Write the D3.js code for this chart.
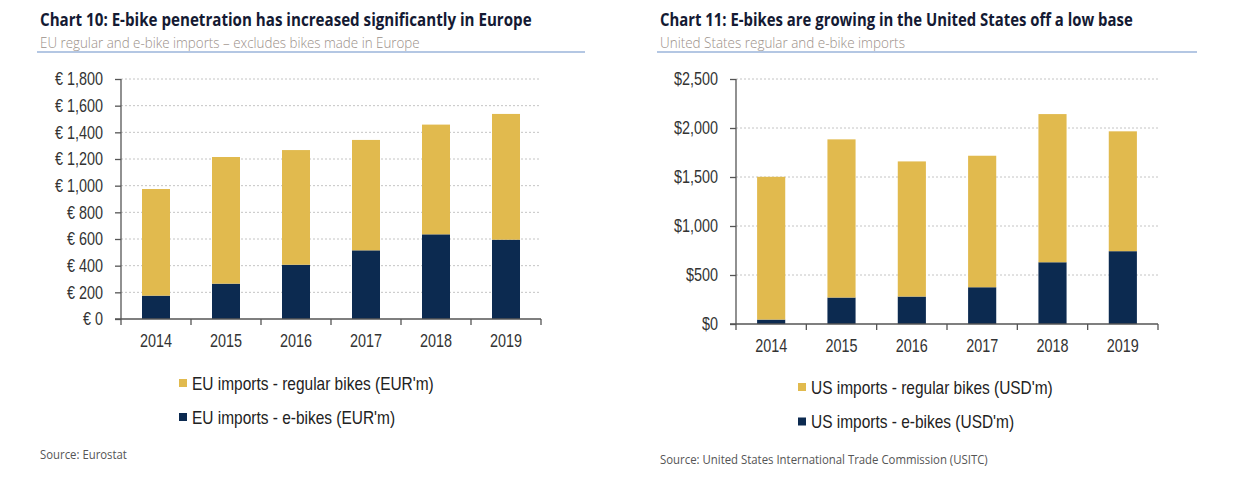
<!DOCTYPE html>
<html>
<head>
<meta charset="utf-8">
<script src="https://cdn.jsdelivr.net/npm/d3@7"></script>
<style>
  html, body { margin: 0; padding: 0; background: #fff; }
  svg { display: block; }
</style>
</head>
<body>
<svg id="chart" width="1233" height="486"></svg>
<script>
// ---------------- DATA ----------------
const years = ["2014", "2015", "2016", "2017", "2018", "2019"];
const euEbikes = [175, 265, 407, 515, 635, 595];
const euRegular = [800, 950, 860, 828, 823, 943];
const usEbikes = [45, 270, 280, 375, 630, 743];
const usRegular = [1457, 1614, 1379, 1342, 1512, 1223];
const euTicks = [0, 200, 400, 600, 800, 1000, 1200, 1400, 1600, 1800];
const usTicks = [0, 500, 1000, 1500, 2000, 2500];
const euLegend = ["EU imports - regular bikes (EUR'm)", "EU imports - e-bikes (EUR'm)"];
const usLegend = ["US imports - regular bikes (USD'm)", "US imports - e-bikes (USD'm)"];

const GOLD = "#E1BA4E";
const NAVY = "#0C2A50";
const svg = d3.select("#chart");

// horizontally scale a text (about its anchor point) by a factor, via a transform
function squeeze(node, s) {
  const el = d3.select(node);
  const x = +el.attr("x") || 0;
  const y = +el.attr("y") || 0;
  el.attr("x", 0).attr("y", 0)
    .attr("transform", `translate(${x},${y}) scale(${s},1)`);
}
function condense(sel, factor) {
  sel.each(function () { squeeze(this, factor); });
}
function fitWidth(sel, width) {
  sel.each(function () {
    const w = this.getComputedTextLength();
    squeeze(this, width / w);
  });
}

function header(cfg) {
  const g = svg.append("g");
  g.append("text").attr("x", cfg.tx).attr("y", 26)
    .attr("font-family", "'Open Sans', 'Noto Sans', sans-serif")
    .attr("font-weight", 700).attr("font-size", 18.5).attr("fill", "#141a33")
    .text(cfg.title).call(fitWidth, cfg.titleW);
  g.append("text").attr("x", cfg.tx).attr("y", 47.5)
    .attr("font-family", "'Open Sans', 'Noto Sans', sans-serif")
    .attr("font-weight", 300).attr("font-size", 15).attr("fill", "#9b9089")
    .text(cfg.subtitle).call(fitWidth, cfg.subW);
  g.append("line").attr("x1", cfg.lx1).attr("x2", cfg.lx2)
    .attr("y1", 52).attr("y2", 52)
    .attr("stroke", "#6b8fc8").attr("stroke-width", 1.2);
  g.append("text").attr("x", cfg.tx).attr("y", cfg.srcY)
    .attr("font-family", "'Open Sans', 'Noto Sans', sans-serif")
    .attr("font-weight", 400).attr("font-size", 12).attr("fill", "#555")
    .text(cfg.source).call(fitWidth, cfg.srcW);
}

function drawChart(cfg) {
  const g = svg.append("g");
  const x = d3.scaleBand().domain(years).range([cfg.x0, cfg.x1])
    .paddingInner(0.6).paddingOuter(0.3);
  const y = d3.scaleLinear().domain([0, cfg.max]).range([cfg.yBot, cfg.yTop]);

  // gridlines
  g.append("g").selectAll("line").data(cfg.ticks.filter(d => d > 0)).join("line")
    .attr("x1", cfg.x0).attr("x2", cfg.gridEnd)
    .attr("y1", d => y(d)).attr("y2", d => y(d))
    .attr("stroke", "#c4c4c4").attr("stroke-width", 1)
    .attr("stroke-dasharray", "2,2");

  const series = years.map((yr, i) => ({ yr, e: cfg.ebikes[i], r: cfg.regular[i] }));
  // e-bikes (bottom)
  g.append("g").selectAll("rect").data(series).join("rect")
    .attr("x", d => x(d.yr)).attr("width", x.bandwidth())
    .attr("y", d => y(d.e)).attr("height", d => y(0) - y(d.e))
    .attr("fill", NAVY);
  // regular (stacked on top)
  g.append("g").selectAll("rect").data(series).join("rect")
    .attr("x", d => x(d.yr)).attr("width", x.bandwidth())
    .attr("y", d => y(d.e + d.r)).attr("height", d => y(d.e) - y(d.e + d.r))
    .attr("fill", GOLD);

  // y axis
  const ya = g.append("g").attr("transform", `translate(${cfg.x0},0)`)
    .call(d3.axisLeft(y).tickValues(cfg.ticks).tickSize(6).tickPadding(cfg.yPad)
      .tickFormat(cfg.fmt));
  ya.select(".domain").attr("stroke", "#555").attr("stroke-width", 1.3)
    .attr("d", `M0,${cfg.yBot}V${cfg.yTop}`);
  ya.selectAll(".tick line").attr("stroke", "#555").attr("stroke-width", 1.3);
  ya.selectAll(".tick text").attr("font-family", "'Liberation Sans', Arial, sans-serif")
    .attr("font-size", 18).attr("fill", "#333").call(condense, 0.8);

  // x axis
  const step = x.step();
  const first = x(years[0]) - (step - x.bandwidth()) / 2;
  const bounds = d3.range(years.length + 1).map(i => first + i * step);
  g.append("line").attr("x1", cfg.x0 - 6).attr("x2", cfg.x1)
    .attr("y1", cfg.yBot).attr("y2", cfg.yBot)
    .attr("stroke", "#555").attr("stroke-width", 1.3);
  g.append("g").selectAll("line").data(bounds).join("line")
    .attr("x1", d => d).attr("x2", d => d)
    .attr("y1", cfg.yBot).attr("y2", cfg.yBot + 6)
    .attr("stroke", "#555").attr("stroke-width", 1.3);
  g.append("g").selectAll("text").data(years).join("text")
    .attr("x", d => x(d) + x.bandwidth() / 2).attr("y", cfg.yBot + cfg.xLabDy)
    .attr("text-anchor", "middle")
    .attr("font-family", "'Liberation Sans', Arial, sans-serif")
    .attr("font-size", 18).attr("fill", "#333")
    .text(d => d).call(condense, 0.8);

  // legend
  const lg = g.append("g");
  const colors = [GOLD, NAVY];
  cfg.legend.forEach((t, i) => {
    const yy = cfg.legY + i * cfg.legGap;
    lg.append("rect").attr("x", cfg.legX).attr("y", yy - 4).attr("width", 8).attr("height", 8)
      .attr("fill", colors[i]);
    lg.append("text").attr("x", cfg.legX + 13).attr("y", yy + 6.5)
      .attr("font-family", "'Liberation Sans', Arial, sans-serif")
      .attr("font-size", 18).attr("fill", "#222")
      .text(t).call(condense, 0.86);
  });
}

header({
  tx: 40, title: "Chart 10: E-bike penetration has increased significantly in Europe", titleW: 492,
  subtitle: "EU regular and e-bike imports \u2013 excludes bikes made in Europe", subW: 380,
  lx1: 37, lx2: 585, source: "Source: Eurostat", srcY: 459, srcW: 87
});
header({
  tx: 660, title: "Chart 11: E-bikes are growing in the United States off a low base", titleW: 473,
  subtitle: "United States regular and e-bike imports", subW: 245,
  lx1: 657, lx2: 1197, source: "Source: United States International Trade Commission (USITC)", srcY: 464, srcW: 328
});

drawChart({
  x0: 121, x1: 541, gridEnd: 541, yTop: 79, yBot: 319, max: 1800, ticks: euTicks,
  fmt: d => "\u20ac " + d3.format(",")(d), yPad: 12, xLabDy: 28,
  ebikes: euEbikes, regular: euRegular, legend: euLegend, legX: 179, legY: 383, legGap: 34
});
drawChart({
  x0: 736, x1: 1158, gridEnd: 1160, yTop: 79, yBot: 324, max: 2500, ticks: usTicks,
  fmt: d => "$" + d3.format(",")(d), yPad: 12, xLabDy: 28,
  ebikes: usEbikes, regular: usRegular, legend: usLegend, legX: 798, legY: 387, legGap: 34.5
});
</script>
</body>
</html>
